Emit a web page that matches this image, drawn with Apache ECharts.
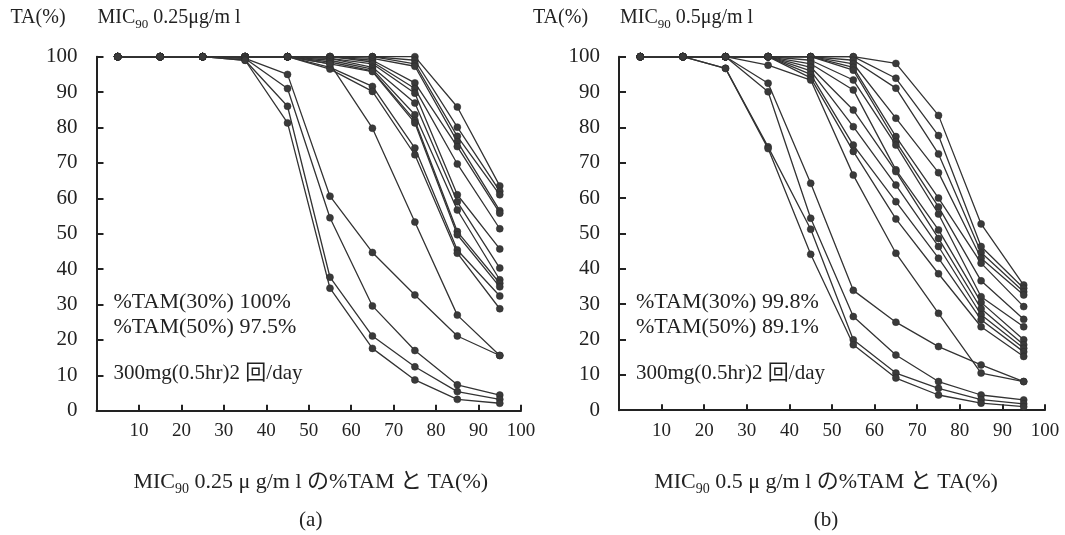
<!DOCTYPE html>
<html>
<head>
<meta charset="utf-8">
<script src="https://cdn.jsdelivr.net/npm/echarts@6/dist/echarts.min.js"></script>
<style>
html,body{margin:0;padding:0;background:#fff;}
#chart{width:1065px;height:535px;}
</style>
</head>
<body>
<div id="chart"></div>
<script>
// %TAM categories (x positions of the measured points)
const tamValues = [5, 15, 25, 35, 45, 55, 65, 75, 85, 95];
const xTickLabels = ['10','20','30','40','50','60','70','80','90','100'];
const yTickLabels = ['0','10','20','30','40','50','60','70','80','90','100'];

// Panel (a): MIC90 0.25 µg/ml — TA(%) of each curve at tamValues
const panelALines = [
  [100,100,100,100,100,100,100,100,85.8,63.5],
  [100,100,100,100,100,100,100,99,80.1,62],
  [100,100,100,100,100,100,100,98,77.5,61],
  [100,100,100,100,100,100,99.5,97.3,76,56.5],
  [100,100,100,100,100,100,99,92.6,74.6,55.8],
  [100,100,100,100,100,100,98.5,91,69.7,51.4],
  [100,100,100,100,100,99.5,98,89.7,61,45.7],
  [100,100,100,100,100,99.5,97,86.9,59,40.3],
  [100,100,100,100,100,99,96.5,83.6,56.7,37],
  [100,100,100,100,100,98.5,96,82,50.6,36],
  [100,100,100,100,100,98,95.8,81.3,49.7,35],
  [100,100,100,100,100,97,91.6,74.2,45.4,32.4],
  [100,100,100,100,100,96.5,90.2,72.3,44.5,28.8],
  [100,100,100,100,100,98,79.8,53.3,27,15.6],
  [100,100,100,99.5,95,60.6,44.7,32.7,21.1,15.6],
  [100,100,100,99.5,91,54.5,29.6,17,7.3,4.4],
  [100,100,100,99,86,37.7,21.1,12.4,5.4,3.2],
  [100,100,100,99,81.3,34.6,17.6,8.7,3.2,2.1]
];

// Panel (b): MIC90 0.5 µg/ml
const panelBLines = [
  [100,100,100,100,100,100,98.1,83.4,52.7,35.4],
  [100,100,100,100,100,100,93.9,77.7,46.3,34.5],
  [100,100,100,100,100,99,91.1,72.5,44.6,33.5],
  [100,100,100,100,100,98,82.6,67.2,43,32.6],
  [100,100,100,100,100,97,77.4,60,41.6,29.3],
  [100,100,100,100,100,96.2,76,57.5,36.6,25.7],
  [100,100,100,100,99,93.4,75,55.5,32.1,23.6],
  [100,100,100,100,98,90.6,68,51,30.5,19.9],
  [100,100,100,100,97,84.9,67.5,48.6,28.7,18.5],
  [100,100,100,100,96,80.2,63.7,46.3,27,17.5],
  [100,100,100,100,95,75,59,43,25.6,16.5],
  [100,100,100,100,94,73.2,54.1,38.6,23.6,15.2],
  [100,100,100,97.6,93.4,66.5,44.4,27.4,10.5,8.1],
  [100,100,100,92.5,64.2,33.9,24.9,18,12.8,8.1],
  [100,100,100,90.1,54.3,26.5,15.6,8.1,4.3,2.9],
  [100,100,96.7,74.5,51.2,19.9,10.5,6.2,3,1.8],
  [100,100,96.7,74,44.1,18.5,9.1,4.3,2,1]
];

const panelTexts = {
  a: { mic: '0.25', tam30: '%TAM(30%) 100%', tam50: '%TAM(50%) 97.5%', label: '(a)', titleShift: 2 },
  b: { mic: '0.5', tam30: '%TAM(30%) 99.8%', tam50: '%TAM(50%) 89.1%', label: '(b)', titleShift: -6 }
};
const doseText = '300mg(0.5hr)2 回/day';

const FONT = "'Liberation Serif','Noto Sans CJK JP',serif";
const INK = '#222';

const chart = echarts.init(document.getElementById('chart'), null, {renderer: 'canvas'});

const grids = [
  {left: 96.5, top: 56.7, width: 424.5, height: 354},
  {left: 619, top: 56.7, width: 426, height: 353.5}
];

function xAxisCfg(gi) {
  return {
    type: 'value', gridIndex: gi, min: 0, max: 100, interval: 10,
    axisLine: {show: true, lineStyle: {color: INK, width: 2}},
    axisTick: {show: true, inside: true, length: 6, lineStyle: {color: INK, width: 2}},
    axisLabel: {
      show: true, margin: 11, color: INK, fontFamily: FONT, fontSize: 19,
      formatter: function (v) { const i = Math.round(v / 10) - 1; return i >= 0 ? xTickLabels[i] : ''; }
    },
    splitLine: {show: false}
  };
}
function yAxisCfg(gi) {
  return {
    type: 'value', gridIndex: gi, min: 0, max: 100, interval: 10,
    axisLine: {show: true, lineStyle: {color: INK, width: 2}},
    axisTick: {show: true, inside: true, length: 7, lineStyle: {color: INK, width: 2}},
    axisLabel: {
      show: true, margin: 19, color: INK, fontFamily: FONT, fontSize: 21,
      formatter: function (v) { return yTickLabels[Math.round(v / 10)]; }
    },
    splitLine: {show: false}
  };
}

const series = [];
function addLines(lines, gi) {
  lines.forEach(function (arr, k) {
    series.push({
      type: 'line', xAxisIndex: gi, yAxisIndex: gi,
      name: (gi === 0 ? 'a' : 'b') + k,
      data: tamValues.map(function (x, i) { return [x, arr[i]]; }),
      symbol: 'circle', symbolSize: 7,
      lineStyle: {color: '#333', width: 1.3},
      itemStyle: {color: '#3a3a3a', borderColor: '#2a2a2a', borderWidth: 0.5},
      animation: false, silent: true, z: 3
    });
  });
}
addLines(panelALines, 0);
addLines(panelBLines, 1);

function rich(size, sub) {
  return {
    n: {fontFamily: FONT, fontSize: size, color: INK, lineHeight: size + 6, verticalAlign: 'middle'},
    s: {fontFamily: FONT, fontSize: sub, color: INK, lineHeight: size + 6, verticalAlign: 'bottom'}
  };
}

function txt(x, y, text, opts) {
  opts = opts || {};
  const size = opts.size || 20;
  return {
    type: 'text', x: x, y: y, silent: true, z: 10,
    style: Object.assign({
      text: text, fill: INK, font: size + 'px ' + FONT,
      fontFamily: FONT, fontSize: size,
      align: opts.align || 'left', verticalAlign: 'middle',
      textAlign: opts.align || 'left', textVerticalAlign: 'middle'
    }, opts.rich ? {rich: opts.rich} : {})
  };
}

function panelGraphics(p, g) {
  const t = panelTexts[p];
  const left = g.left, cx = g.left + g.width / 2;
  const out = [];
  out.push(txt(left - 86, 18, 'TA(%)'));
  out.push(txt(left + 1, 18, '{n|MIC}{s|90}{n| ' + t.mic + 'μg/m l}', {rich: rich(20, 13)}));
  out.push(txt(left + 17, 302, t.tam30, {size: 22}));
  out.push(txt(left + 17, 327, t.tam50, {size: 22}));
  out.push(txt(left + 17, 373, doseText, {size: 21}));
  out.push(txt(cx + t.titleShift, 482, '{n|MIC}{s|90}{n| ' + t.mic + ' μ g/m l の%TAM と TA(%)}', {rich: rich(22, 14), align: 'center'}));
  out.push(txt(cx + t.titleShift, 520, t.label, {align: 'center', size: 21}));
  return out;
}

const option = {
  backgroundColor: '#fff',
  animation: false,
  grid: grids,
  xAxis: [xAxisCfg(0), xAxisCfg(1)],
  yAxis: [yAxisCfg(0), yAxisCfg(1)],
  series: series,
  graphic: {elements: panelGraphics('a', grids[0]).concat(panelGraphics('b', grids[1]))}
};
chart.setOption(option);
</script>
</body>
</html>
